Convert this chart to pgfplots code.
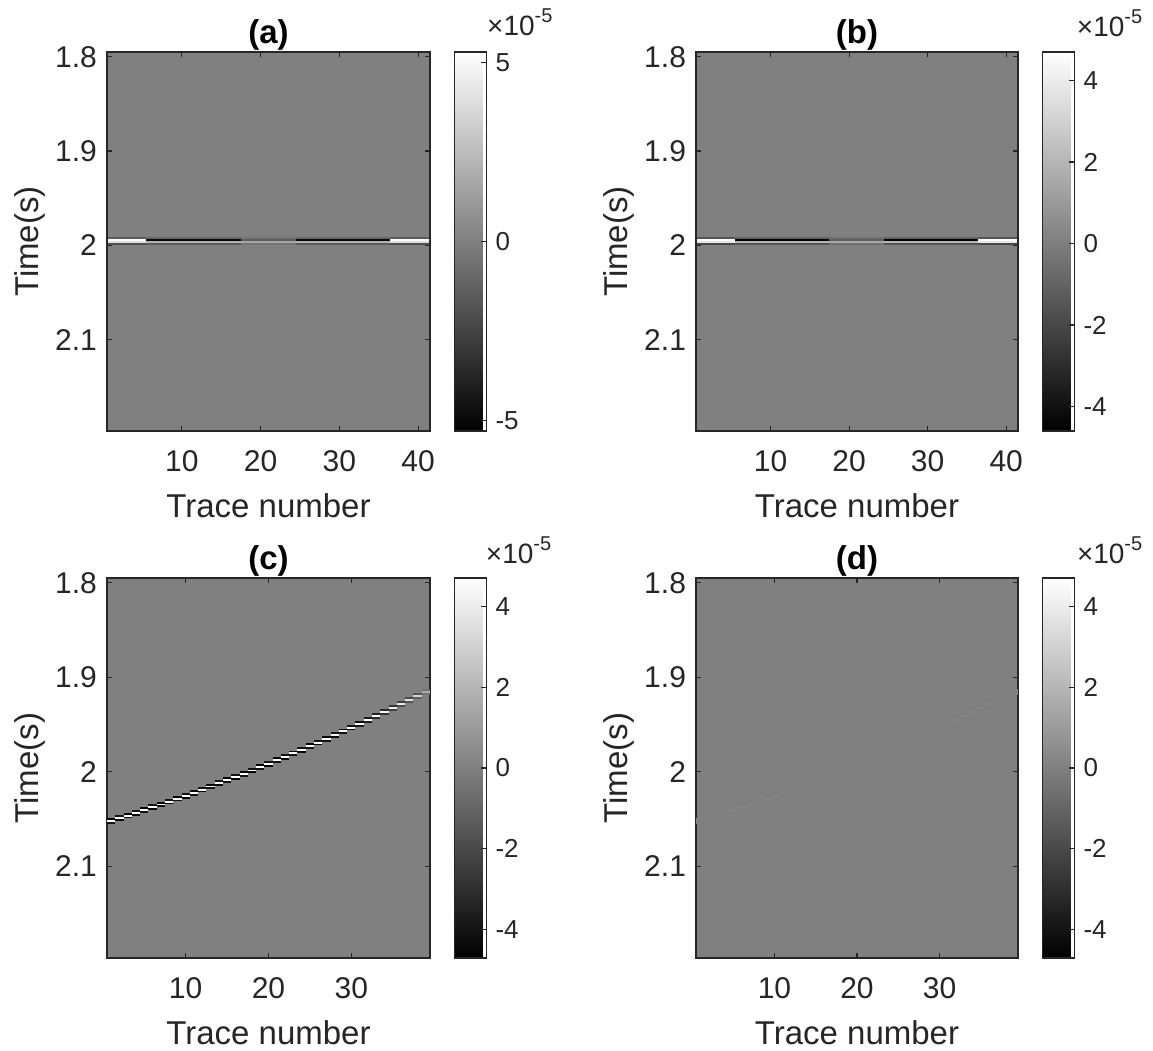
\documentclass[border=0pt]{standalone}
\usepackage{fontspec}
\setmainfont{Liberation Sans}
\usepackage{pgfplots}
\pgfplotsset{compat=1.18}
\usepackage{pgfplotstable}
\definecolor{mid}{gray}{0.5}
\definecolor{fr}{gray}{0.15}
\newcommand\tickfont{\fontsize{15}{18}\selectfont}
\newcommand\labfont{\fontsize{16.5}{19}\selectfont}
\newcommand\cbfont{\fontsize{13}{15}\selectfont}
\newcommand\expo{\fontsize{14}{16}\selectfont ×10\raisebox{6.5pt}{\fontsize{10}{11}\selectfont -5}}

\pgfplotstableread{
j t a1 a2 a3 r1 r2 r3
1 2.0520 -4.5 5.0 -4.0 0 0 0
2 2.0492 -4.0 5.0 -4.5 0 0 0
3 2.0464 -4.5 5.0 -4.0 0 0 0
4 2.0435 -4.0 5.0 -4.5 0 0 0
5 2.0405 -4.5 5.0 -4.0 -0.08 0.12 -0.06
6 2.0376 -4.0 5.0 -4.5 -0.08 0.12 -0.06
7 2.0346 -4.5 5.0 -4.0 -0.08 0.12 -0.06
8 2.0315 -4.0 5.0 -4.5 -0.08 0.12 -0.06
9 2.0284 -4.5 5.0 -4.0 -0.08 0.12 -0.06
10 2.0253 -4.0 5.0 -4.5 -0.08 0.12 -0.06
11 2.0221 -4.5 5.0 -4.0 0 0 0
12 2.0188 -4.0 5.0 -4.5 0 0 0
13 2.0156 -4.5 5.0 -4.0 0 0 0
14 2.0122 -4.0 5.0 -4.5 0 0 0
15 2.0089 -4.5 5.0 -4.0 0 0 0
16 2.0055 -4.0 5.0 -4.5 0 0 0
17 2.0020 -4.5 5.0 -4.0 0 0 0
18 1.9986 -4.0 5.0 -4.5 0 0 0
19 1.9950 -4.5 5.0 -4.0 0 0 0
20 1.9914 -4.0 5.0 -4.5 0 0 0
21 1.9878 -4.5 5.0 -4.0 0 0 0
22 1.9842 -4.0 5.0 -4.5 0 0 0
23 1.9805 -4.5 5.0 -4.0 0 0 0
24 1.9767 -4.0 5.0 -4.5 0 0 0
25 1.9729 -4.5 5.0 -4.0 0 0 0
26 1.9691 -4.0 5.0 -4.5 0 0 0
27 1.9652 -4.5 5.0 -4.0 0 0 0
28 1.9613 -4.0 5.0 -4.5 0 0 0
29 1.9573 -4.5 5.0 -4.0 0 0 0
30 1.9533 -4.0 5.0 -4.5 0 0 0
31 1.9493 -4.2 4.8 -3.8 0 0 0
32 1.9452 -3.8 4.6 -3.5 -0.08 0.12 -0.06
33 1.9411 -3.5 4.4 -3.2 -0.08 0.12 -0.06
34 1.9369 -3.2 4.2 -2.8 -0.08 0.12 -0.06
35 1.9327 -2.8 4.0 -2.4 -0.08 0.12 -0.06
36 1.9284 -2.4 3.8 -2.0 -0.08 0.12 -0.06
37 1.9241 -2.0 3.5 -1.6 0 0 0
38 1.9198 -1.6 3.0 -1.2 0 0 0
39 1.9154 -0.6 1.6 -0.4 0 0 0
}\evc

\pgfplotsset{
  seis/.style={
    scale only axis, enlargelimits=false, clip=false, axis on top,
    y dir=reverse, ymin=1.795, ymax=2.197,
    ytick={1.8,1.9,2,2.1},
    tick align=inside, major tick length=2.5pt,
    axis line style={draw=fr, line width=0.6pt},
    every tick/.append style={draw=fr, line width=0.6pt},
    /pgf/number format/assume math mode=true,
    tick label style={font=\tickfont, text=fr},
    xticklabel style={yshift=-6.3pt},
    yticklabel style={xshift=-1.5pt},
    xlabel={Trace number}, ylabel={Time(s)},
    every axis x label/.style={at={(axis description cs:0.5,-0.228)}, anchor=base, font=\labfont, text=fr},
    every axis y label/.style={at={(axis description cs:-0.2136,0.5)}, rotate=90, anchor=base, font=\labfont, text=fr},
    every axis title shift=0pt,
    title style={at={(axis description cs:0.5,1.0224)}, anchor=base, font=\labfont\bfseries, text=black},
    axis background/.style={fill=mid},
    colormap={bw}{gray(0cm)=(0); gray(1cm)=(1)},
    colorbar,
    colorbar style={
      width=16pt, at={(parent axis.north east)}, anchor=north west, xshift=3.7pt,
      ytick pos=right, tick align=inside, major tick length=2.5pt,
      yticklabel style={font=\cbfont, text=fr, xshift=1pt},
      axis line style={draw=fr, line width=0.6pt},
      every tick/.append style={draw=fr, line width=0.6pt},
      /pgf/number format/assume math mode=true,
    },
  },
  ev/.style={scatter, only marks, mark=-, mark size=2.07pt, point meta=explicit,
    scatter/use mapped color={draw=mapped color, fill=mapped color},
    mark options={line width=0.95pt}},
}

\begin{document}
\begin{tikzpicture}
\path[use as bounding box] (0,0) rectangle (576.5pt,-525.5pt);

% (a)
\begin{axis}[seis, at={(53.5pt,-215.5pt)}, anchor=south west,
  width=161.5pt, height=189.5pt, xmin=0.5, xmax=41.5, xtick={10,20,30,40},
  point meta min=-5.3, point meta max=5.3, colorbar style={ytick={-5,0,5}},
  title={(a)}]
\addplot[surf, shader=flat corner, mesh/cols=6, point meta=explicit] table[meta=c] {
x y c
0.5 1.9915 -1.5
5.5 1.9915 -1.0
17.5 1.9915 -0.5
24.5 1.9915 -1.0
36.5 1.9915 -1.5
41.5 1.9915 0
0.5 1.9935 5.0
5.5 1.9935 -5.0
17.5 1.9935 -1.5
24.5 1.9935 -5.0
36.5 1.9935 5.0
41.5 1.9935 0
0.5 1.9955 4.0
5.5 1.9955 2.0
17.5 1.9955 1.5
24.5 1.9955 2.0
36.5 1.9955 4.0
41.5 1.9955 0
0.5 1.9975 -2.0
5.5 1.9975 -1.5
17.5 1.9975 -0.5
24.5 1.9975 -1.5
36.5 1.9975 -2.0
41.5 1.9975 0
0.5 1.9995 0
5.5 1.9995 0
17.5 1.9995 0
24.5 1.9995 0
36.5 1.9995 0
41.5 1.9995 0
};
\node[anchor=base west, inner sep=0pt, text=fr] at (axis description cs:1.176,1.044) {\expo};
\end{axis}

% (b)
\begin{axis}[seis, at={(348pt,-215.5pt)}, anchor=south west,
  width=161pt, height=189.5pt, xmin=0.5, xmax=41.5, xtick={10,20,30,40},
  point meta min=-4.6, point meta max=4.7, colorbar style={ytick={-4,-2,0,2,4}},
  title={(b)}]
\addplot[surf, shader=flat corner, mesh/cols=6, point meta=explicit] table[meta=c] {
x y c
0.5 1.9915 -1.5
5.5 1.9915 -1.0
17.5 1.9915 -0.5
24.5 1.9915 -1.0
36.5 1.9915 -1.5
41.5 1.9915 0
0.5 1.9935 4.7
5.5 1.9935 -4.6
17.5 1.9935 -1.2
24.5 1.9935 -4.6
36.5 1.9935 4.7
41.5 1.9935 0
0.5 1.9955 3.8
5.5 1.9955 2.0
17.5 1.9955 1.5
24.5 1.9955 2.0
36.5 1.9955 3.8
41.5 1.9955 0
0.5 1.9975 -2.0
5.5 1.9975 -1.5
17.5 1.9975 -0.5
24.5 1.9975 -1.5
36.5 1.9975 -2.0
41.5 1.9975 0
0.5 1.9995 0
5.5 1.9995 0
17.5 1.9995 0
24.5 1.9995 0
36.5 1.9995 0
41.5 1.9995 0
};
\node[anchor=base west, inner sep=0pt, text=fr] at (axis description cs:1.182,1.042) {\expo};
\end{axis}

% (c)
\begin{axis}[seis, at={(53.5pt,-479pt)}, anchor=south west,
  width=161.5pt, height=190pt, xmin=0.5, xmax=39.5, xtick={10,20,30},
  point meta min=-4.7, point meta max=4.7, colorbar style={ytick={-4,-2,0,2,4}},
  title={(c)}]
\addplot[ev] table[x=j, y expr=\thisrow{t}-0.002, meta=a1] {\evc};
\addplot[ev] table[x=j, y=t, meta=a2] {\evc};
\addplot[ev] table[x=j, y expr=\thisrow{t}+0.002, meta=a3] {\evc};
\node[anchor=base west, inner sep=0pt, text=fr] at (axis description cs:1.172,1.039) {\expo};
\end{axis}

% (d)
\begin{axis}[seis, at={(348pt,-479pt)}, anchor=south west,
  width=161pt, height=190pt, xmin=0.5, xmax=39.5, xtick={10,20,30},
  point meta min=-4.7, point meta max=4.7, colorbar style={ytick={-4,-2,0,2,4}},
  title={(d)}]
\addplot[ev] table[x=j, y expr=\thisrow{t}-0.002, meta=r1] {\evc};
\addplot[ev] table[x=j, y=t, meta=r2] {\evc};
\addplot[ev] table[x=j, y expr=\thisrow{t}+0.002, meta=r3] {\evc};
\node[anchor=base west, inner sep=0pt, text=fr] at (axis description cs:1.182,1.039) {\expo};
\end{axis}
\end{tikzpicture}
\end{document}
